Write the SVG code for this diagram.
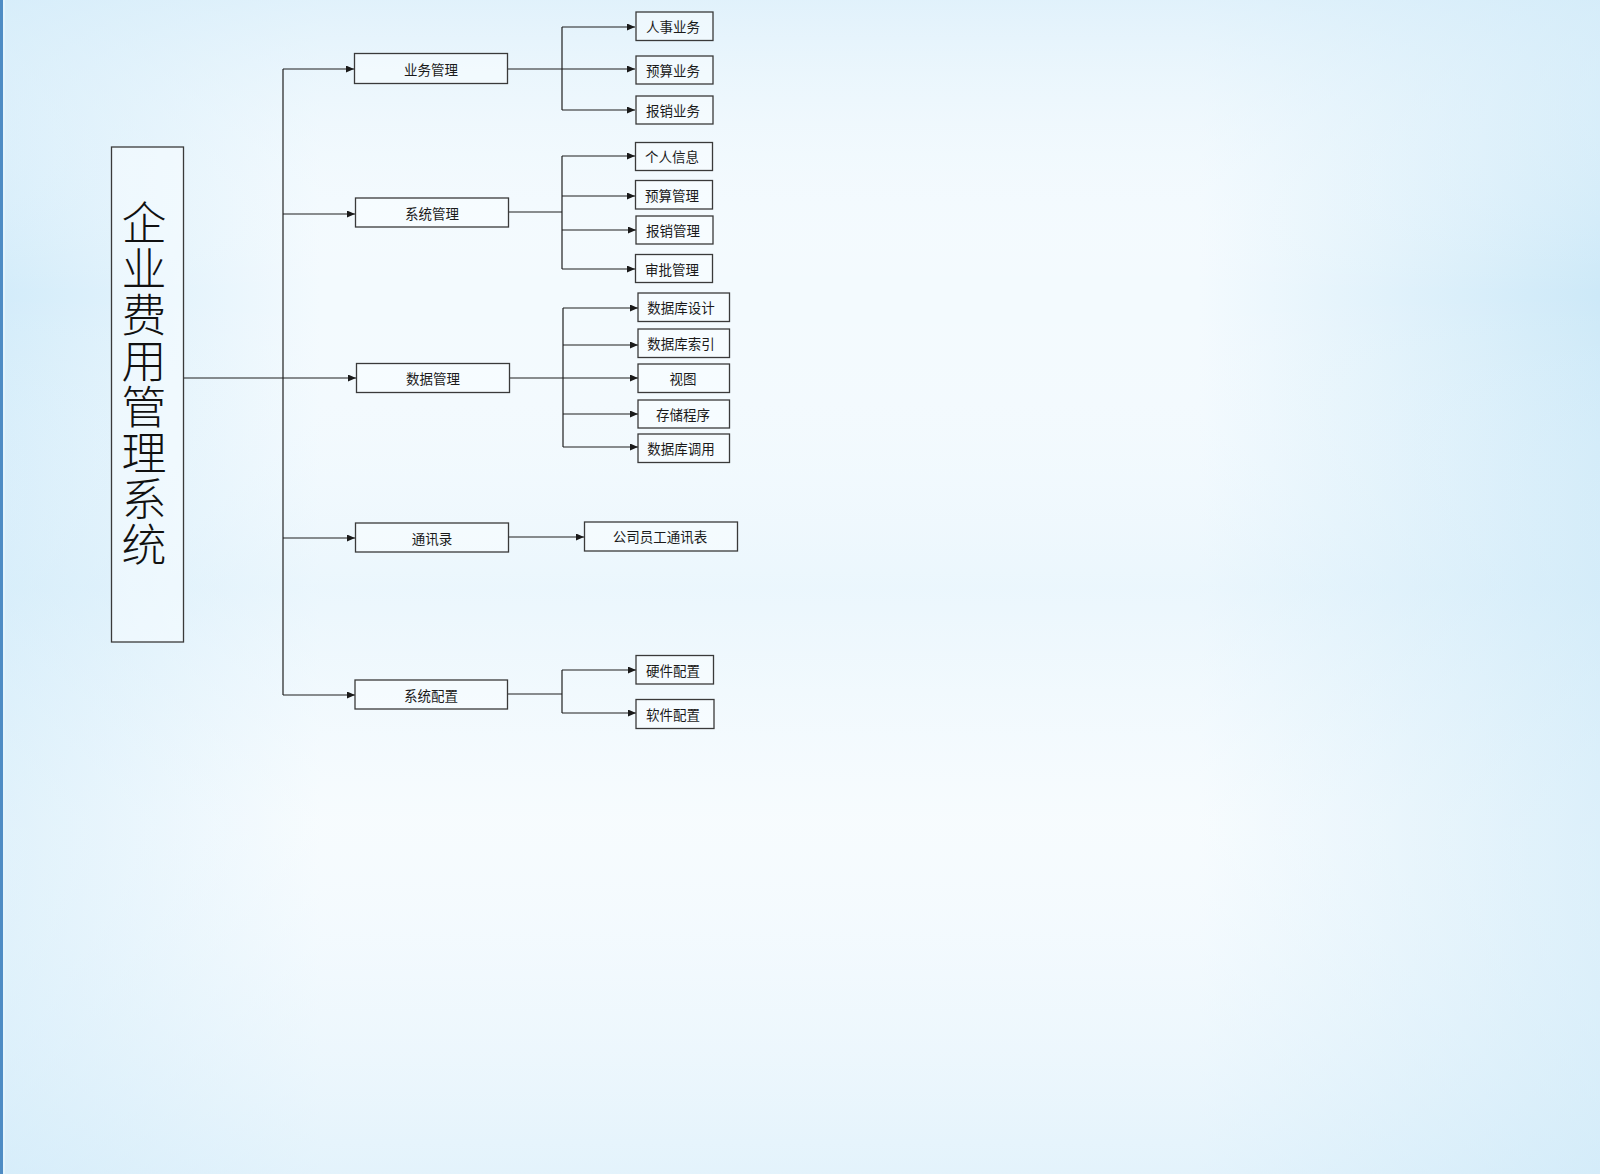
<svg xmlns="http://www.w3.org/2000/svg" width="1600" height="1174" viewBox="0 0 1600 1174">
<defs>
<linearGradient id="bgH" x1="0" y1="0" x2="1" y2="0">
<stop offset="0" stop-color="#d3ecfa"/>
<stop offset="0.2" stop-color="#f3fafe"/>
<stop offset="0.75" stop-color="#f3fafe"/>
<stop offset="1" stop-color="#cde9f8"/>
</linearGradient>
<linearGradient id="bgV" x1="0" y1="0" x2="0" y2="1">
<stop offset="0" stop-color="#d9eefa" stop-opacity="0.7"/>
<stop offset="0.25" stop-color="#ffffff" stop-opacity="0"/>
<stop offset="0.5" stop-color="#dff1fb" stop-opacity="0.4"/>
<stop offset="0.7" stop-color="#ffffff" stop-opacity="0.3"/>
<stop offset="1" stop-color="#d9eefa" stop-opacity="0.6"/>
</linearGradient>
<marker id="arr" viewBox="0 0 8 7" refX="8" refY="3.5" markerWidth="8" markerHeight="7" markerUnits="userSpaceOnUse" orient="auto">
<path d="M0,0 L8,3.5 L0,7 z" fill="#1a1a1a"/>
</marker>
<style>
.box{fill:#f9fdff;fill-opacity:0.5;stroke:#3a3a3a;stroke-width:1.3}
.lbl{font-family:"Noto Sans CJK SC","Noto Sans",sans-serif;font-size:13.5px;fill:#1a1a1a;text-anchor:middle;dominant-baseline:central}
.ln{fill:none;stroke:#1f1f1f;stroke-width:1.2}
.ar{marker-end:url(#arr)}
.title{font-family:"Noto Sans CJK SC","Noto Sans CJK JP",serif;font-size:45px;font-weight:300;fill:#111;writing-mode:vertical-rl;letter-spacing:1px}
</style>
</defs>
<rect x="0" y="0" width="1600" height="1174" fill="url(#bgH)"/>
<rect x="0" y="0" width="1600" height="1174" fill="url(#bgV)"/>
<rect x="0" y="0" width="3" height="1174" fill="#4e8cc4"/>
<rect x="3" y="0" width="2" height="1174" fill="#e3f4fd"/>

<g id="connectors">
<line class="ln" x1="183" y1="378" x2="283" y2="378"/>
<line class="ln" x1="283" y1="69" x2="283" y2="695"/>
<line class="ln ar" x1="283" y1="69" x2="354" y2="69"/>
<line class="ln ar" x1="283" y1="214" x2="355" y2="214"/>
<line class="ln ar" x1="283" y1="378" x2="356" y2="378"/>
<line class="ln ar" x1="283" y1="538" x2="355" y2="538"/>
<line class="ln ar" x1="283" y1="695" x2="355" y2="695"/>

<line class="ln ar" x1="508" y1="69" x2="635" y2="69"/>
<line class="ln" x1="562" y1="27" x2="562" y2="110"/>
<line class="ln ar" x1="562" y1="27" x2="635" y2="27"/>
<line class="ln ar" x1="562" y1="110" x2="635" y2="110"/>

<line class="ln" x1="508" y1="212" x2="562" y2="212"/>
<line class="ln" x1="562" y1="156" x2="562" y2="269"/>
<line class="ln ar" x1="562" y1="156" x2="635" y2="156"/>
<line class="ln ar" x1="562" y1="196" x2="635" y2="196"/>
<line class="ln ar" x1="562" y1="230" x2="636" y2="230"/>
<line class="ln ar" x1="562" y1="269" x2="635" y2="269"/>

<line class="ln" x1="509" y1="378" x2="563" y2="378"/>
<line class="ln" x1="563" y1="308" x2="563" y2="447"/>
<line class="ln ar" x1="563" y1="308" x2="638" y2="308"/>
<line class="ln ar" x1="563" y1="345" x2="638" y2="345"/>
<line class="ln ar" x1="563" y1="378" x2="638" y2="378"/>
<line class="ln ar" x1="563" y1="414" x2="638" y2="414"/>
<line class="ln ar" x1="563" y1="447" x2="638" y2="447"/>

<line class="ln ar" x1="508" y1="537" x2="584" y2="537"/>

<line class="ln" x1="507" y1="694" x2="562" y2="694"/>
<line class="ln" x1="562" y1="670" x2="562" y2="713"/>
<line class="ln ar" x1="562" y1="670" x2="636" y2="670"/>
<line class="ln ar" x1="562" y1="713" x2="636" y2="713"/>
</g>

<g id="root">
<rect class="box" x="111.5" y="147" width="72" height="495"/>
<text class="title" x="144" y="200">企业费用管理系统</text>
</g>

<g id="n-ywgl"><rect class="box" x="354.5" y="53.5" width="153" height="30"/><text class="lbl" x="431" y="68.5">业务管理</text></g>
<g id="n-xtgl"><rect class="box" x="355.5" y="198" width="153" height="29"/><text class="lbl" x="432" y="212.5">系统管理</text></g>
<g id="n-sjgl"><rect class="box" x="356.5" y="363.5" width="153" height="29"/><text class="lbl" x="433" y="378">数据管理</text></g>
<g id="n-txl"><rect class="box" x="355.5" y="523" width="153" height="29"/><text class="lbl" x="432" y="537.5">通讯录</text></g>
<g id="n-xtpz"><rect class="box" x="355" y="680" width="152.5" height="29"/><text class="lbl" x="431" y="694.5">系统配置</text></g>

<g id="n-rsyw"><rect class="box" x="636" y="12" width="77" height="28.5"/><text class="lbl" x="673" y="26">人事业务</text></g>
<g id="n-ysyw"><rect class="box" x="636" y="56" width="77" height="28"/><text class="lbl" x="673" y="70">预算业务</text></g>
<g id="n-bxyw"><rect class="box" x="636" y="96" width="77" height="28"/><text class="lbl" x="673" y="110">报销业务</text></g>

<g id="n-grxx"><rect class="box" x="635.5" y="142.5" width="77" height="28"/><text class="lbl" x="672" y="156">个人信息</text></g>
<g id="n-ysgl"><rect class="box" x="635.5" y="180.5" width="77" height="28.5"/><text class="lbl" x="672" y="194.5">预算管理</text></g>
<g id="n-bxgl"><rect class="box" x="636" y="216" width="77" height="28"/><text class="lbl" x="673" y="230">报销管理</text></g>
<g id="n-spgl"><rect class="box" x="635.5" y="254.5" width="77" height="28"/><text class="lbl" x="672" y="268.5">审批管理</text></g>

<g id="n-sjksj"><rect class="box" x="638" y="293" width="91.5" height="28.5"/><text class="lbl" x="681" y="307">数据库设计</text></g>
<g id="n-sjksy"><rect class="box" x="638" y="329" width="91.5" height="28.5"/><text class="lbl" x="681" y="343">数据库索引</text></g>
<g id="n-st"><rect class="box" x="638" y="364" width="91.5" height="28.5"/><text class="lbl" x="683" y="378">视图</text></g>
<g id="n-cccx"><rect class="box" x="638" y="400" width="91.5" height="28"/><text class="lbl" x="683" y="414">存储程序</text></g>
<g id="n-sjkdy"><rect class="box" x="638" y="434" width="91.5" height="28.5"/><text class="lbl" x="681" y="448">数据库调用</text></g>

<g id="n-gsyg"><rect class="box" x="584.5" y="522" width="153" height="29"/><text class="lbl" x="660" y="536">公司员工通讯表</text></g>

<g id="n-yjpz"><rect class="box" x="636" y="655.5" width="77.5" height="28.5"/><text class="lbl" x="673" y="670">硬件配置</text></g>
<g id="n-rjpz"><rect class="box" x="636" y="699.5" width="78" height="29"/><text class="lbl" x="673" y="714">软件配置</text></g>
</svg>
